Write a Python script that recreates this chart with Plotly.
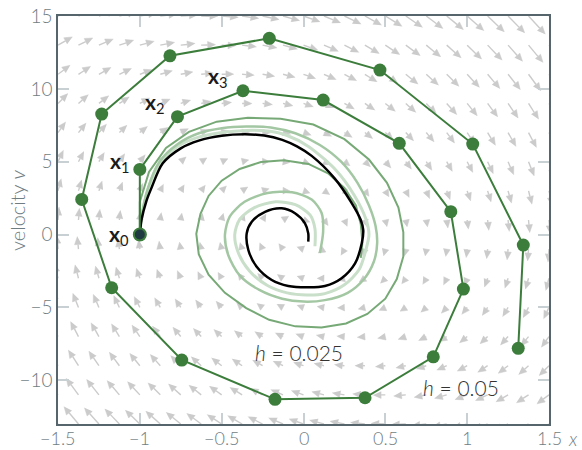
import numpy as np
import plotly.graph_objects as go

# ---- axes ----
X_RANGE = [-1.5, 1.5]
V_RANGE = [-13, 15]
x_tickvals = [-1.5, -1, -0.5, 0, 0.5, 1, 1.5]
x_ticktext = ["\u22121.5", "\u22121", "\u22120.5", "0", "0.5", "1", "1.5"]
v_tickvals = [-10, -5, 0, 5, 10, 15]
v_ticktext = ["\u221210", "\u22125", "0", "5", "10", "15"]

# ---- damped oscillator x' = v, v' = -k x - c v (direction field) ----
K_SPRING = 90.0
C_DAMP = 4.0
field_x = np.linspace(-1.5, 1.5, 25)
field_v = np.arange(-13, 16, 2)

# ---- forward Euler, h = 0.05 (marked steps x0, x1, ...) ----
euler_h050_x = [-1.0, -1.0, -0.77, -0.37, 0.12, 0.585, 0.90, 0.977, 0.793, 0.376, -0.174,
                -0.744, -1.172, -1.355, -1.233, -0.816, -0.209, 0.467, 1.034, 1.343, 1.312]
euler_h050_v = [0.0, 4.47, 8.09, 9.87, 9.23, 6.26, 1.57, -3.74, -8.39, -11.2, -11.31,
                -8.61, -3.65, 2.41, 8.27, 12.27, 13.47, 11.29, 6.21, -0.72, -7.81]

# ---- forward Euler, h = 0.025 ----
euler_h025_x = [-1.00, -1.00, -0.944, -0.84, -0.70, -0.53, -0.34, -0.14, 0.06, 0.25, 0.40, 0.51,
                0.58, 0.61, 0.61, 0.57, 0.50, 0.39, 0.26, 0.11, -0.05, -0.21, -0.35, -0.48,
                -0.58, -0.64, -0.655, -0.63, -0.58, -0.50, -0.39, -0.26, -0.12, 0.03, 0.15,
                0.25, 0.32, 0.35, 0.36, 0.35]
euler_h025_v = [0.00, 2.25, 4.30, 5.95, 7.05, 7.75, 8.02, 7.95, 7.55, 6.55, 5.15, 3.55,
                1.85, 0.15, -1.50, -3.05, -4.40, -5.45, -6.10, -6.38, -6.30, -5.85, -5.05, -4.00,
                -2.75, -1.35, 0.05, 1.40, 2.65, 3.70, 4.50, 4.98, 5.10, 4.85, 4.20,
                3.20, 2.00, 0.70, -0.55, -1.60]

# ---- forward Euler, h = 0.0125 ----
euler_h0125_x = [-1.00, -0.99, -0.95, -0.88, -0.77, -0.64, -0.50, -0.35, -0.20, -0.05, 0.10, 0.23,
                 0.33, 0.40, 0.44, 0.45, 0.43, 0.37, 0.27, 0.13, 0.00, -0.13, -0.27, -0.39, -0.46,
                 -0.48, -0.45, -0.36, -0.22, -0.07, 0.05, 0.11, 0.12, 0.10]
euler_h0125_v = [0.00, 1.20, 3.20, 5.00, 6.20, 6.95, 7.30, 7.42, 7.35, 6.95, 6.15, 5.00,
                 3.55, 2.00, 0.60, -0.60, -1.85, -3.05, -4.00, -4.50, -4.60, -4.40, -3.80, -2.80, -1.40,
                 0.00, 1.25, 2.25, 2.85, 2.90, 2.40, 1.50, 0.20, -1.27]

# ---- forward Euler, h = 0.00625 ----
euler_h00625_x = [-1.00, -0.99, -0.95, -0.88, -0.77, -0.65, -0.50, -0.35, -0.22, -0.10, 0.03, 0.20,
                  0.31, 0.38, 0.40, 0.38, 0.34, 0.25, 0.13, 0.02, -0.10, -0.22, -0.33, -0.40,
                  -0.42, -0.39, -0.30, -0.17, -0.05, 0.04, 0.07, 0.07]
euler_h00625_v = [0.00, 1.10, 3.10, 4.90, 6.05, 6.65, 7.00, 7.15, 7.10, 6.80, 6.05, 4.40,
                  2.70, 1.10, 0.00, -1.10, -2.40, -3.45, -4.05, -4.15, -4.00, -3.50, -2.50, -1.20,
                  0.00, 1.05, 1.85, 2.25, 2.05, 1.35, 0.40, -0.80]

# ---- exact solution ----
exact_x = [-1.00, -0.99, -0.96, -0.93, -0.86, -0.75, -0.64, -0.50, -0.36, -0.24, -0.13, -0.04,
           0.05, 0.19, 0.29, 0.35, 0.365, 0.356, 0.315, 0.233, 0.131, 0.029, -0.093, -0.194,
           -0.286, -0.337, -0.347, -0.316, -0.235, -0.133, -0.052, 0.009, 0.029, 0.029]
exact_v = [0.00, 1.00, 2.30, 3.17, 4.89, 5.92, 6.45, 6.78, 6.88, 6.80, 6.50, 6.05,
           5.40, 3.86, 2.25, 1.00, 0.30, -0.60, -1.98, -3.00, -3.53, -3.62, -3.53, -3.12,
           -2.21, -1.06, 0.08, 0.88, 1.56, 1.80, 1.46, 0.77, 0.08, -0.49]

# ---- figure geometry ----
W, H = 582, 450
M = dict(l=58, r=33, t=16, b=26)
px_x = (W - M["l"] - M["r"]) / (X_RANGE[1] - X_RANGE[0])
px_v = (H - M["t"] - M["b"]) / (V_RANGE[1] - V_RANGE[0])

ARROW_COLOR = "#cbcbcb"
ARROW_SCALE = 0.0068   # pixels per unit of on-screen field magnitude
ARROW_MIN = 7.0
HEAD_LEN = 8.0
HEAD_W = 7.0

shaft_x, shaft_y, head_x, head_y = [], [], [], []
for xv in field_x:
    for vv in field_v:
        du = vv * px_x
        dw = (-K_SPRING * xv - C_DAMP * vv) * px_v
        mag = np.hypot(du, dw)
        if mag == 0:
            continue
        ex, ey = du / mag, dw / mag
        L = max(ARROW_SCALE * mag, ARROW_MIN)
        hl = min(HEAD_LEN, L)
        tip = (L * ex, L * ey)
        base = ((L - hl) * ex, (L - hl) * ey)
        nx, ny = -ey, ex
        if L - hl > 0.5:
            shaft_x += [xv, xv + base[0] / px_x, None]
            shaft_y += [vv, vv + base[1] / px_v, None]
        pts = [tip,
               (base[0] + nx * HEAD_W / 2, base[1] + ny * HEAD_W / 2),
               (base[0] - nx * HEAD_W / 2, base[1] - ny * HEAD_W / 2)]
        for p in pts:
            head_x.append(xv + p[0] / px_x)
            head_y.append(vv + p[1] / px_v)
        head_x.append(None)
        head_y.append(None)

fig = go.Figure()
fig.add_trace(go.Scatter(x=shaft_x, y=shaft_y, mode="lines",
                         line=dict(color=ARROW_COLOR, width=1.4), hoverinfo="skip"))
fig.add_trace(go.Scatter(x=head_x, y=head_y, mode="lines", fill="toself",
                         fillcolor=ARROW_COLOR, line=dict(color=ARROW_COLOR, width=0.5),
                         hoverinfo="skip"))

fig.add_trace(go.Scatter(x=euler_h00625_x, y=euler_h00625_v, mode="lines",
                         line=dict(color="#c9dfc9", width=3, shape="spline", smoothing=0.8)))
fig.add_trace(go.Scatter(x=euler_h0125_x, y=euler_h0125_v, mode="lines",
                         line=dict(color="#a3c7a3", width=2.5, shape="spline", smoothing=0.8)))
fig.add_trace(go.Scatter(x=euler_h025_x, y=euler_h025_v, mode="lines",
                         line=dict(color="#76a976", width=2)))
fig.add_trace(go.Scatter(x=exact_x, y=exact_v, mode="lines",
                         line=dict(color="#000000", width=2.5, shape="spline", smoothing=0.9)))
fig.add_trace(go.Scatter(x=euler_h050_x, y=euler_h050_v, mode="lines+markers",
                         line=dict(color="#3c7d3c", width=2),
                         marker=dict(size=13, color="#3c7d3c")))
fig.add_trace(go.Scatter(x=euler_h050_x[:1], y=euler_h050_v[:1], mode="markers",
                         marker=dict(size=12, color="#1f3a40", line=dict(color="#3c7d3c", width=2))))

FONT = "Lato"
label_font = dict(family=FONT, size=21, color="#1a1a1a")
step_labels = [("<b>x</b><sub>0</sub>", -1.13, 0.0),
               ("<b>x</b><sub>1</sub>", -1.12, 5.0),
               ("<b>x</b><sub>2</sub>", -0.91, 9.0),
               ("<b>x</b><sub>3</sub>", -0.52, 10.8)]
for txt, ax_, av_ in step_labels:
    fig.add_annotation(x=ax_, y=av_, text=txt, showarrow=False, font=label_font)

text_font = dict(family=FONT, size=21, color="#333333", weight=300)
fig.add_annotation(x=-0.03, y=-8.1, text="<i>h</i> = 0.025", showarrow=False, font=text_font)
fig.add_annotation(x=0.96, y=-10.5, text="<i>h</i> = 0.05", showarrow=False, font=text_font)

tick_font = dict(family=FONT, size=19, color="#6f7d83", weight=300)
axis_common = dict(showgrid=False, zeroline=False, showline=True, linecolor="#56656b",
                   linewidth=1.5, mirror="ticks", ticks="inside", ticklen=11, tickwidth=1.5,
                   tickcolor="#c8d0d4", tickfont=tick_font, automargin=False)
fig.update_xaxes(range=X_RANGE, tickvals=x_tickvals, showticklabels=False, **axis_common)
fig.update_yaxes(range=V_RANGE, tickvals=v_tickvals, ticktext=v_ticktext, **axis_common)

# x tick labels placed just below the frame
for tv, tt in zip(x_tickvals, x_ticktext):
    fig.add_annotation(x=tv, xref="x", y=0, yref="paper", yanchor="middle", yshift=-14,
                       text=tt, showarrow=False, font=dict(family=FONT, size=18,
                                                           color="#6f7d83", weight=300))

fig.add_annotation(xref="paper", yref="paper", x=1.0, y=0, xanchor="left", yanchor="middle",
                   xshift=17, yshift=-14, text="<i>x</i>", showarrow=False,
                   font=dict(family=FONT, size=19, color="#6f7d83", weight=300))
fig.add_annotation(xref="paper", yref="paper", x=0, y=0.5, xanchor="center", yanchor="middle",
                   xshift=-41, yshift=10, textangle=-90, text="velocity <i>v</i>", showarrow=False,
                   font=dict(family=FONT, size=20, color="#6f7d83", weight=300))

fig.update_layout(width=W, height=H, margin=M, showlegend=False,
                  plot_bgcolor="white", paper_bgcolor="white")
fig.write_html("out.html")
